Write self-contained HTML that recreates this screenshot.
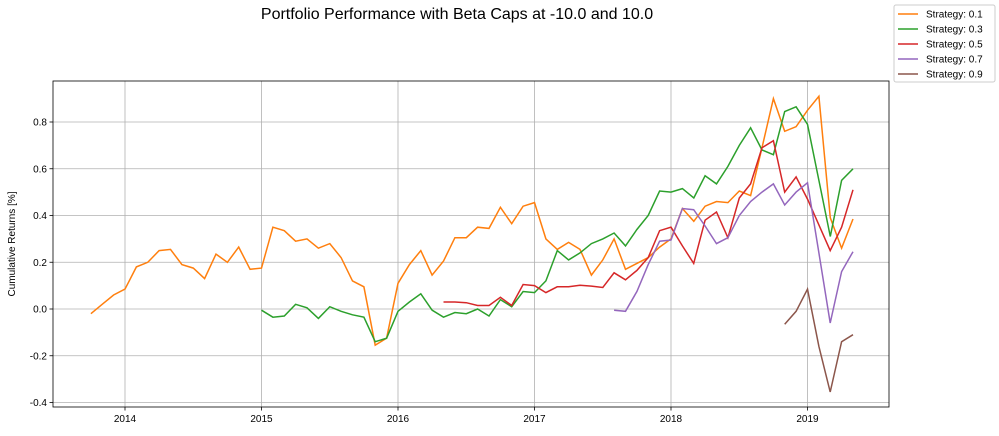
<!DOCTYPE html>
<html><head><meta charset="utf-8"><style>
body{margin:0;background:#fff;font-family:"Liberation Sans",sans-serif;}
svg text{font-family:"Liberation Sans",sans-serif;}
</style></head><body>
<svg id="chart" width="999" height="431" xmlns="http://www.w3.org/2000/svg">
<text x="457" y="19" font-size="16" text-anchor="middle">Portfolio Performance with Beta Caps at -10.0 and 10.0</text>
<g id="grid"></g>
<g id="series"></g>
<rect x="53" y="81" width="836" height="326" fill="none" stroke="#000" stroke-width="0.8"/>
<g id="axes"></g>
<text transform="translate(15,244) rotate(-90)" font-size="10" text-anchor="middle">Cumulative Returns [%]</text>
<g id="legend"></g>
</svg>
<script>
const xTicks=[2014,2015,2016,2017,2018,2019];
const yTicks=[-0.4,-0.2,0.0,0.2,0.4,0.6,0.8];
const seriesNames=["Strategy: 0.1","Strategy: 0.3","Strategy: 0.5","Strategy: 0.7","Strategy: 0.9"];
const seriesColors=["#ff7f0e","#2ca02c","#d62728","#9467bd","#8c564b"];
// start months as [year, month]
const seriesStart=[[2013,10],[2015,1],[2016,5],[2017,8],[2018,11]];
const s01=[-0.02,0.02,0.06,0.085,0.18,0.20,0.25,0.255,0.19,0.175,0.13,0.235,0.20,0.265,0.17,0.175,0.35,0.335,0.29,0.30,0.26,0.28,0.22,0.12,0.095,-0.155,-0.125,0.11,0.19,0.25,0.145,0.205,0.305,0.305,0.35,0.345,0.435,0.365,0.44,0.455,0.30,0.255,0.285,0.255,0.145,0.21,0.30,0.17,0.195,0.22,0.265,0.30,0.43,0.375,0.44,0.46,0.455,0.505,0.485,0.69,0.90,0.76,0.78,0.85,0.91,0.39,0.26,0.385];
const s03=[-0.005,-0.035,-0.03,0.02,0.005,-0.04,0.01,-0.01,-0.025,-0.035,-0.14,-0.125,-0.01,0.03,0.065,-0.005,-0.035,-0.015,-0.02,0.0,-0.03,0.04,0.01,0.075,0.07,0.12,0.25,0.21,0.24,0.28,0.30,0.325,0.27,0.34,0.40,0.505,0.50,0.515,0.475,0.57,0.535,0.61,0.70,0.775,0.68,0.66,0.845,0.865,0.79,0.55,0.31,0.55,0.60];
const s05=[0.03,0.03,0.027,0.015,0.015,0.05,0.015,0.105,0.10,0.07,0.095,0.095,0.102,0.098,0.092,0.155,0.125,0.165,0.22,0.335,0.35,0.27,0.195,0.38,0.415,0.305,0.475,0.535,0.69,0.72,0.50,0.565,0.47,0.36,0.25,0.35,0.51];
const s07=[-0.005,-0.01,0.075,0.19,0.29,0.295,0.43,0.425,0.355,0.28,0.305,0.40,0.46,0.50,0.535,0.445,0.50,0.54,0.24,-0.06,0.16,0.245];
const s09=[-0.065,-0.01,0.085,-0.16,-0.355,-0.14,-0.11];
const seriesData=[s01,s03,s05,s07,s09];

const X0=53,X1=889,Y0=81,Y1=407;
const pxYear=136.5;
function xs(t){return 125+(t-2014)*pxYear;}
function ys(v){return 309-v*233.75;}
const NS="http://www.w3.org/2000/svg";
function mk(tag,attrs,parent){const e=document.createElementNS(NS,tag);for(const k in attrs)e.setAttribute(k,attrs[k]);parent.appendChild(e);return e;}
const grid=document.getElementById('grid'),axes=document.getElementById('axes'),ser=document.getElementById('series'),leg=document.getElementById('legend');
xTicks.forEach(t=>{const x=xs(t);
 const g=mk('line',{x1:x,x2:x,y1:Y0,y2:Y1,stroke:'#b0b0b0','stroke-width':0.8},grid);
 
 
 const tk=mk('line',{x1:x,x2:x,y1:Y1,y2:Y1+3.5,stroke:'#000','stroke-width':0.8},axes);
 
 
 const tx=mk('text',{x:x,y:Y1+15,'font-size':10,'text-anchor':'middle'},axes);tx.textContent=t;
 
 
});
yTicks.forEach(v=>{const y=ys(v);
 const g=mk('line',{x1:X0,x2:X1,y1:y,y2:y,stroke:'#b0b0b0','stroke-width':0.8},grid);
 
 
 const tk=mk('line',{x1:X0-3.5,x2:X0,y1:y,y2:y,stroke:'#000','stroke-width':0.8},axes);
 
 
 const tx=mk('text',{x:X0-6,y:y+3.5,'font-size':10,'text-anchor':'end'},axes);tx.textContent=v.toFixed(1);
 
 
});
seriesData.forEach((arr,i)=>{
 const st=seriesStart[i];const t0=st[0]+(st[1]-1)/12;
 const pts=arr.map((v,j)=>xs(t0+j/12).toFixed(1)+','+ys(v).toFixed(1)).join(' ');
 const p=mk('polyline',{points:pts,fill:'none',stroke:seriesColors[i],'stroke-width':1.5},ser);
 
 
});
const lb=mk('rect',{x:894,y:5,width:101,height:77,fill:'#fff',stroke:'#ccc',rx:2},leg);


seriesNames.forEach((n,i)=>{const y=14+i*15;
 const g=mk('g',{},leg);
 
 
 mk('line',{x1:898,x2:918,y1:y,y2:y,stroke:seriesColors[i],'stroke-width':1.5},g);
 const t=mk('text',{x:926,y:y+3.5,'font-size':10},g);t.textContent=n;
});
</script>
</body></html>
